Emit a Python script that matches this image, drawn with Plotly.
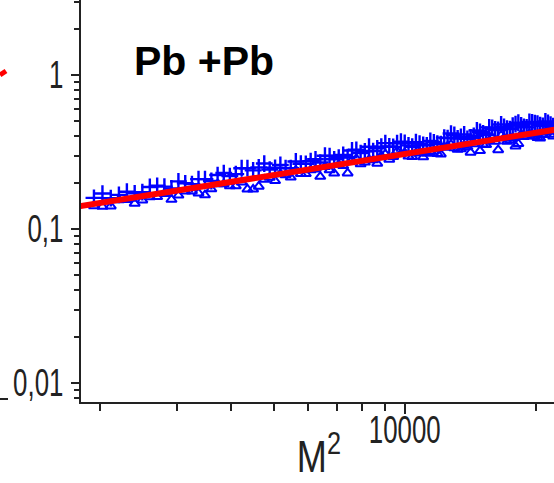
import plotly.graph_objects as go

# even M (44..148)
m2_even = [1936, 2116, 2304, 2500, 2704, 2916, 3136, 3364, 3600, 3844, 4096, 4356, 4624,
           4900, 5184, 5476, 5776, 6084, 6400, 6724, 7056, 7396, 7744, 8100, 8464, 8836,
           9216, 9604, 10000, 10404, 10816, 11236, 11664, 12100, 12544, 12996, 13456,
           13924, 14400, 14884, 15376, 15876, 16384, 16900, 17424, 17956, 18496, 19044,
           19600, 20164, 20736, 21316, 21904]
cross_even = [0.1592, 0.1585, 0.1747, 0.1735, 0.1908, 0.1833, 0.1981, 0.2107, 0.2049,
              0.2308, 0.2271, 0.2481, 0.2510, 0.2429, 0.2605, 0.2480, 0.2655, 0.2760,
              0.2701, 0.2976, 0.2908, 0.2929, 0.3269, 0.3191, 0.3207, 0.3421, 0.3434,
              0.3605, 0.3620, 0.3420, 0.3586, 0.3489, 0.3655, 0.3557, 0.3894, 0.4078,
              0.3961, 0.3848, 0.4023, 0.4272, 0.4086, 0.4532, 0.4398, 0.4596, 0.4455,
              0.4792, 0.4715, 0.4568, 0.4916, 0.4832, 0.4680, 0.4881, 0.4657]
tri_even = [0.1413, 0.1406, 0.1550, 0.1539, 0.1619, 0.1554, 0.1758, 0.1709, 0.1817,
            0.1958, 0.1899, 0.1812, 0.1890, 0.2156, 0.2277, 0.2167, 0.2287, 0.2412,
            0.2190, 0.2414, 0.2620, 0.2305, 0.2859, 0.2708, 0.2803, 0.2989, 0.2828,
            0.3201, 0.3116, 0.2945, 0.3182, 0.3095, 0.3198, 0.3061, 0.3455, 0.3359,
            0.3311, 0.3413, 0.3570, 0.3216, 0.3518, 0.3903, 0.3260, 0.3898, 0.3779,
            0.3450, 0.4122, 0.3996, 0.4107, 0.3920, 0.4090, 0.4331, 0.4008]

# odd M (45..147)
m2_odd = [2025, 2209, 2401, 2601, 2809, 3025, 3249, 3481, 3721, 3969, 4225, 4489, 4761,
          5041, 5329, 5625, 5929, 6241, 6561, 6889, 7225, 7569, 7921, 8281, 8649, 9025,
          9409, 9801, 10201, 10609, 11025, 11449, 11881, 12321, 12769, 13225, 13689,
          14161, 14641, 15129, 15625, 16129, 16641, 17161, 17689, 18225, 18769, 19321,
          19881, 20449, 21025, 21609]
cross_odd = [0.1699, 0.1666, 0.1703, 0.1875, 0.1885, 0.2039, 0.1955, 0.2109, 0.2241,
             0.2207, 0.2482, 0.2404, 0.2660, 0.2496, 0.2486, 0.2745, 0.2649, 0.2835,
             0.2989, 0.2836, 0.3030, 0.3235, 0.3112, 0.3421, 0.3337, 0.3613, 0.3416,
             0.3693, 0.3491, 0.3662, 0.3512, 0.3735, 0.3580, 0.3921, 0.4166, 0.3871,
             0.4113, 0.3935, 0.4368, 0.4179, 0.4567, 0.4432, 0.4773, 0.4491, 0.4692,
             0.4897, 0.4607, 0.4955, 0.4873, 0.4719, 0.4998, 0.4768]
tri_odd = [0.1399, 0.1545, 0.1466, 0.1616, 0.1697, 0.1654, 0.1760, 0.1661, 0.1959,
           0.1900, 0.2015, 0.1809, 0.2095, 0.2056, 0.2239, 0.2399, 0.2281, 0.2441,
           0.2535, 0.2299, 0.2572, 0.2786, 0.2640, 0.2818, 0.2667, 0.3065, 0.2941,
           0.3088, 0.2962, 0.3107, 0.2934, 0.3170, 0.3082, 0.3377, 0.3535, 0.3285,
           0.3490, 0.3144, 0.3707, 0.3545, 0.3762, 0.3706, 0.4049, 0.3698, 0.3920,
           0.3578, 0.3969, 0.4143, 0.4012, 0.3885, 0.4240, 0.4105]

fit_x = [1700, 23000]
fit_y = [0.137, 0.449]

y_tickvals = [0.01, 0.1, 1]
y_ticktext = ["0,01", "0,1", "1"]
y_minor = [0.008, 0.009, 0.02, 0.03, 0.04, 0.05, 0.06, 0.07, 0.08, 0.09,
           0.2, 0.3, 0.4, 0.5, 0.6, 0.7, 0.8, 0.9, 2, 3]
x_tickvals = [10000]
x_ticktext = ["10000"]
x_minor = [2000, 3000, 4000, 5000, 6000, 7000, 8000, 9000, 20000]

W, H = 554, 483
L, B = 81, 81
plot_w, plot_h = W - L, H - B


def px_x(px):
    return (px - L) / plot_w


def px_y(py):
    return (plot_h - py) / plot_h


blue = "#0000ff"
tick_font = dict(family="Liberation Sans, Arial, sans-serif", size=38, color="#222222")

m2_all = m2_even + m2_odd
fig = go.Figure()
fig.add_trace(go.Scatter(x=m2_all, y=tri_even + tri_odd, mode="markers",
                         marker=dict(symbol="triangle-up-open", size=9, color=blue,
                                     line=dict(width=2, color=blue)),
                         showlegend=False))
fig.add_trace(go.Scatter(x=m2_all, y=cross_even + cross_odd, mode="markers",
                         marker=dict(symbol="cross-thin-open", size=12, color=blue,
                                     line=dict(width=2.4, color=blue)),
                         showlegend=False))
fig.add_trace(go.Scatter(x=fit_x, y=fit_y, mode="lines",
                         line=dict(color="#ff0000", width=6), showlegend=False))

fig.update_layout(
    width=W, height=H,
    margin=dict(l=L, r=0, t=0, b=B, pad=0, autoexpand=False),
    paper_bgcolor="white", plot_bgcolor="white",
    xaxis=dict(type="log", range=[3.2572, 4.3425], showgrid=False, zeroline=False,
               automargin=False,
               showline=True, linecolor="#222222", linewidth=2,
               tickmode="array", tickvals=x_tickvals, ticktext=x_ticktext,
               ticks="outside", ticklen=10, tickwidth=2, tickcolor="#222222",
               tickfont=tick_font, ticklabelstandoff=-17,
               minor=dict(tickmode="array", tickvals=x_minor, ticks="outside",
                          ticklen=7, tickwidth=2, tickcolor="#222222", showgrid=False)),
    yaxis=dict(type="log", range=[-2.1234, 0.487], showgrid=False, zeroline=False,
               automargin=False,
               showline=True, linecolor="#222222", linewidth=2,
               tickmode="array", tickvals=y_tickvals, ticktext=y_ticktext,
               ticks="outside", ticklen=8, tickwidth=2, tickcolor="#222222",
               tickfont=tick_font, ticklabelstandoff=0,
               minor=dict(tickmode="array", tickvals=y_minor, ticks="outside",
                          ticklen=5, tickwidth=2, tickcolor="#222222", showgrid=False)),
)

fig.add_annotation(text="<b>Pb +Pb</b>", xref="paper", yref="paper",
                   x=px_x(204), y=px_y(61), xanchor="center", yanchor="middle",
                   showarrow=False,
                   font=dict(family="Liberation Sans, Arial, sans-serif", size=41, color="black"))
fig.add_annotation(text="M<sup>2</sup>", xref="paper", yref="paper",
                   x=px_x(319), y=0, xanchor="center", yanchor="bottom", yshift=-81,
                   showarrow=False,
                   font=dict(family="Liberation Sans, Arial, sans-serif", size=44, color="#222222"))

# fragments of the neighbouring panel at the left edge
fig.add_shape(type="line", xref="paper", yref="paper",
              x0=px_x(0), y0=px_y(75), x1=px_x(6), y1=px_y(71),
              line=dict(color="#ff0000", width=5))
fig.add_shape(type="line", xref="paper", yref="paper",
              x0=px_x(0), y0=px_y(399), x1=px_x(8), y1=px_y(399),
              line=dict(color="#222222", width=2))

# the reference's axis texts are horizontally condensed
js = """
var gd = document.getElementById('{plot_id}');
function squeeze(t, f){
  var w = t.getComputedTextLength();
  if (w > 0) {
    t.setAttribute('textLength', (w * f).toFixed(2));
    t.setAttribute('lengthAdjust', 'spacingAndGlyphs');
  }
}
gd.querySelectorAll('g.xtick text, g.ytick text').forEach(function(t){ squeeze(t, 0.68); });
gd.querySelectorAll('g.annotation[data-index="1"] text').forEach(function(t){ squeeze(t, 0.82); });
"""

fig.write_html("out.html", post_script=js)
